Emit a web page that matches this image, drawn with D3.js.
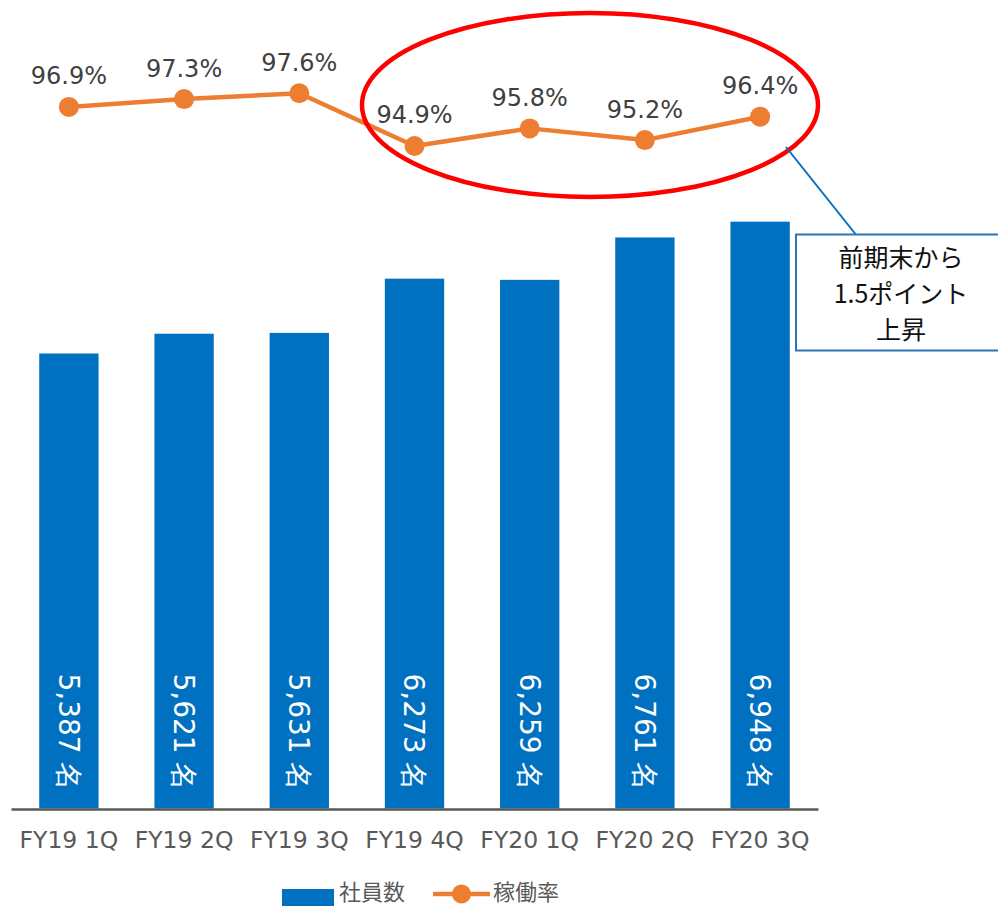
<!DOCTYPE html>
<html>
<head>
<meta charset="utf-8">
<script src="https://cdn.jsdelivr.net/npm/d3@7"></script>
<style>
  html, body { margin: 0; padding: 0; background: #fff; }
  svg { display: block; }
</style>
</head>
<body>
<svg id="chart" width="998" height="906"></svg>
<script>
const categories = ["FY19 1Q", "FY19 2Q", "FY19 3Q", "FY19 4Q", "FY20 1Q", "FY20 2Q", "FY20 3Q"];
const employees = [5387, 5621, 5631, 6273, 6259, 6761, 6948];
const utilization = [96.9, 97.3, 97.6, 94.9, 95.8, 95.2, 96.4];
const seriesNames = ["社員数", "稼働率"];
const calloutLines = ["前期末から", "1.5ポイント", "上昇"];

const BLUE = "#0070C0", ORANGE = "#ED7D31", GREY = "#595959";
const LATIN = "'DejaVu Sans', Verdana, sans-serif";
const CJK = "'Noto Sans CJK JP', 'DejaVu Sans', sans-serif";

const svg = d3.select("#chart");

const x = d3.scaleBand().domain(categories).range([11, 818]).paddingInner(0.485).paddingOuter(0.245);
const yBar = d3.scaleLinear().domain([0, 8000]).range([808.5, 132.8]);
const yLine = d3.scaleLinear().domain([90, 100]).range([241.6, 46.4]);

// Bars
svg.append("g").selectAll("rect").data(employees).join("rect")
  .attr("x", (d, i) => x(categories[i]))
  .attr("width", x.bandwidth())
  .attr("y", d => yBar(d))
  .attr("height", d => yBar(0) - yBar(d))
  .attr("fill", BLUE);

// Bar labels (rotated)
svg.append("g").selectAll("text").data(employees).join("text")
  .attr("transform", (d, i) => `translate(${x(categories[i]) + x.bandwidth() / 2},${yBar(0) - 18}) rotate(90)`)
  .attr("text-anchor", "end")
  .attr("dy", "0.36em")
  .attr("fill", "#fff")
  .style("font-family", LATIN)
  .style("font-size", "28px")
  .text(d => d3.format(",")(d) + " 名");

// X axis
const xAxis = svg.append("g").attr("transform", `translate(0,${yBar(0) + 0.5})`)
  .call(d3.axisBottom(x).tickSize(0).tickPadding(22));
xAxis.select(".domain").attr("stroke", GREY).attr("stroke-width", 2.5);
xAxis.selectAll("text")
  .style("font-family", LATIN).style("font-size", "23.5px").attr("fill", GREY);

// Line
const cx = i => x(categories[i]) + x.bandwidth() / 2;
const line = d3.line().x((d, i) => cx(i)).y(d => yLine(d));
svg.append("path").datum(utilization)
  .attr("d", line).attr("fill", "none").attr("stroke", ORANGE).attr("stroke-width", 4.5)
  .attr("stroke-linejoin", "round");
svg.append("g").selectAll("circle").data(utilization).join("circle")
  .attr("cx", (d, i) => cx(i)).attr("cy", d => yLine(d)).attr("r", 10).attr("fill", ORANGE);
svg.append("g").selectAll("text").data(utilization).join("text")
  .attr("x", (d, i) => cx(i)).attr("y", d => yLine(d) - 22.5)
  .attr("text-anchor", "middle")
  .attr("fill", "#404040")
  .style("font-family", LATIN).style("font-size", "24px")
  .text(d => d.toFixed(1) + "%");

// Red ellipse highlight
svg.append("ellipse")
  .attr("cx", 590).attr("cy", 105).attr("rx", 228).attr("ry", 92)
  .attr("fill", "none").attr("stroke", "#FF0000").attr("stroke-width", 4.5);

// Callout
svg.append("line").attr("x1", 786).attr("y1", 147).attr("x2", 857).attr("y2", 236)
  .attr("stroke", BLUE).attr("stroke-width", 2);
svg.append("rect").attr("x", 796).attr("y", 234.5).attr("width", 220).attr("height", 116)
  .attr("fill", "#fff").attr("stroke", "#2E75B6").attr("stroke-width", 2);
svg.append("g").selectAll("text").data(calloutLines).join("text")
  .attr("x", 901).attr("y", (d, i) => 267 + i * 36)
  .attr("text-anchor", "middle").attr("fill", "#111")
  .style("font-family", CJK).style("font-size", "25px")
  .text(d => d);

// Legend
const lg = svg.append("g");
lg.append("rect").attr("x", 282).attr("y", 889).attr("width", 52).attr("height", 20).attr("fill", BLUE);
lg.append("text").attr("x", 339).attr("y", 900).attr("fill", GREY)
  .style("font-family", CJK).style("font-size", "22px").text(seriesNames[0]);
lg.append("line").attr("x1", 433).attr("x2", 490).attr("y1", 894).attr("y2", 894)
  .attr("stroke", ORANGE).attr("stroke-width", 4.5);
lg.append("circle").attr("cx", 461.5).attr("cy", 894).attr("r", 9.5).attr("fill", ORANGE);
lg.append("text").attr("x", 493).attr("y", 900).attr("fill", GREY)
  .style("font-family", CJK).style("font-size", "22px").text(seriesNames[1]);
</script>
</body>
</html>
